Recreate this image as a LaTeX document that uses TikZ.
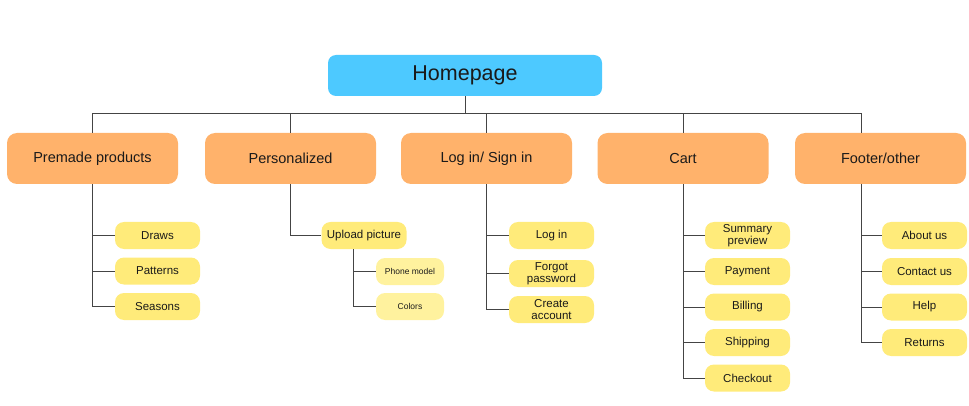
\documentclass[tikz,border=0pt]{standalone}
\usepackage{fontspec}
\setmainfont{Liberation Sans}
\usepackage{tikz}
\definecolor{hblue}{HTML}{4DC9FF}
\definecolor{oorange}{HTML}{FFB26B}
\definecolor{yyellow}{HTML}{FFEB7A}
\definecolor{lyellow}{HTML}{FFF29E}
\definecolor{llink}{HTML}{444444}
\definecolor{ttext}{HTML}{1A1A1A}
\tikzset{
  homebox/.style={fill=hblue, rounded corners=8pt, minimum width=274pt, minimum height=41pt, inner sep=0pt, text=ttext, font=\fontsize{21.5}{24}\selectfont},
  mainbox/.style={fill=oorange, rounded corners=10pt, minimum width=171pt, minimum height=51pt, inner sep=0pt, text=ttext, font=\fontsize{14.5}{16}\selectfont},
  subbox/.style={fill=yyellow, rounded corners=9pt, minimum width=85pt, minimum height=27pt, inner sep=0pt, text=ttext, align=center, font=\fontsize{11.5}{12.5}\selectfont},
  smallbox/.style={fill=lyellow, rounded corners=9pt, minimum width=68pt, minimum height=27pt, inner sep=0pt, text=ttext, font=\fontsize{8.5}{9}\selectfont},
  link/.style={draw=llink, line width=0.8pt}
}
\begin{document}
\begin{tikzpicture}[x=1pt,y=-1pt]
\useasboundingbox (0,0) rectangle (969,406);

\node[homebox] (home) at (465,75.5) {Homepage};

\node[mainbox] (pre) at (92.5,158.5) {Premade products};
\node[mainbox] (pers) at (290.5,158.5) {Personalized};
\node[mainbox] (login) at (486.5,158.5) {Log in/ Sign in};
\node[mainbox] (cart) at (683,158.5) {Cart};
\node[mainbox] (foot) at (880.5,158.5) {Footer/other};

\coordinate (bus) at (465,113);
\coordinate (footup) at (861,133);
\coordinate (footdown) at (861,184);

\draw[link] (home) -- (bus);
\foreach \n in {pre,pers,login,cart}
  \draw[link] (\n.north) |- (bus);
\draw[link] (footup) |- (bus);

% premade
\node[subbox] (draws) at (157.5,235.5) {Draws};
\node[subbox] (patterns) at (157.5,271) {Patterns};
\node[subbox] (seasons) at (157.5,306.5) {Seasons};
\foreach \n in {draws,patterns,seasons}
  \draw[link] (pre.south) |- (\n.west);

% personalized
\node[subbox] (upload) at (364,235.5) {Upload picture};
\node[smallbox] (phone) at (410,271.5) {Phone model};
\node[smallbox] (colors) at (410,306.5) {Colors};
\coordinate (updown) at (353,249);
\draw[link] (pers.south) |- (upload.west);
\foreach \n in {phone,colors}
  \draw[link] (updown) |- (\n.west);

% log in
\node[subbox] (signin) at (551.5,235.5) {Log in};
\node[subbox] (forgot) at (551.5,273.5) {Forgot\\password};
\node[subbox] (create) at (551.5,309.5) {Create\\account};
\foreach \n in {signin,forgot,create}
  \draw[link] (login.south) |- (\n.west);

% cart
\node[subbox] (summary) at (747.5,235.5) {Summary\\preview};
\node[subbox] (payment) at (747.5,271.5) {Payment};
\node[subbox] (billing) at (747.5,307) {Billing};
\node[subbox] (shipping) at (747.5,342.5) {Shipping};
\node[subbox] (checkout) at (747.5,378) {Checkout};
\foreach \n in {summary,payment,billing,shipping,checkout}
  \draw[link] (cart.south) |- (\n.west);

% footer
\node[subbox] (about) at (924.5,235.5) {About us};
\node[subbox] (contact) at (924.5,271.5) {Contact us};
\node[subbox] (help) at (924.5,307) {Help};
\node[subbox] (returns) at (924.5,342.5) {Returns};
\foreach \n in {about,contact,help,returns}
  \draw[link] (footdown) |- (\n.west);
\end{tikzpicture}
\end{document}
